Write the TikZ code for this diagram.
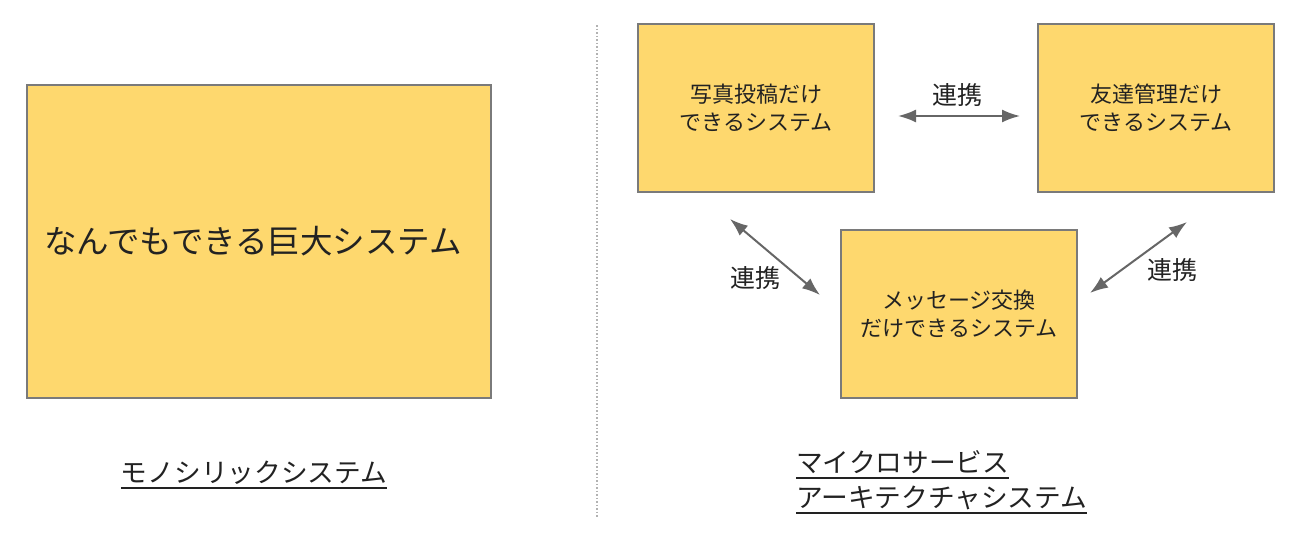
\documentclass[tikz,border=0pt]{standalone}
\usepackage{fontspec}
\setmainfont{Noto Sans CJK JP}
\usetikzlibrary{positioning}
\usetikzlibrary{arrows.meta}
\definecolor{boxfill}{HTML}{FED86E}
\definecolor{boxline}{HTML}{7A7A7A}
\definecolor{linkgray}{HTML}{666666}
\definecolor{txt}{HTML}{222222}
\newcommand{\ulabel}[1]{\setbox0\hbox{#1}\rlap{\copy0}\rule[-7pt]{\wd0}{2pt}}

\begin{document}
\begin{tikzpicture}[x=1pt,y=-1pt,
  sysbox/.style={draw=boxline,line width=1.2pt,fill=boxfill,inner sep=0pt,text=txt,align=center},
  small/.style={font=\fontsize{22}{28}\selectfont},
  link/.style={draw=linkgray,line width=2pt,{Latex[length=18pt,width=13pt]}-{Latex[length=18pt,width=13pt]}},
  linklabel/.style={text=txt,font=\fontsize{25}{25}\selectfont,inner sep=0pt},
  caption/.style={text=txt,font=\fontsize{26.7}{35}\selectfont,inner sep=0pt,align=left}]
 \useasboundingbox (0,0) rectangle (1299,538);
 \draw[gray!60,line width=1.5pt,dotted](597,25)--(597,518);
 % monolith
 \node[sysbox,text width=430pt,inner xsep=17pt,align=left,minimum height=313pt,font=\fontsize{32.5}{32.5}\selectfont] (mono) at (259,241.5) {なんでもできる巨大システム};
 \node[caption] (monocap) at (254,475) {\ulabel{モノシリックシステム}};
 % microservices
 \node[sysbox,small,minimum width=236pt,minimum height=168pt] (photo) at (756,108) {写真投稿だけ\\できるシステム};
 \node[sysbox,small,minimum width=236pt,minimum height=168pt] (friend) at (1156,108) {友達管理だけ\\できるシステム};
 \node[sysbox,small,minimum width=236pt,minimum height=168pt] (msg) at (959,314) {メッセージ交換\\だけできるシステム};
 \coordinate (a1) at (898,116); \coordinate (a2) at (1020,116);
 \coordinate (b1) at (730,219); \coordinate (b2) at (820,295);
 \coordinate (c1) at (1187,222); \coordinate (c2) at (1090,293);
 \draw[link](a1)--(a2);
 \draw[link](b1)--(b2);
 \draw[link](c1)--(c2);
 \node[linklabel] (la) at (957,95) {連携};
 \node[linklabel] (lb) at (755,278) {連携};
 \node[linklabel] (lc) at (1172,270) {連携};
 \node[caption,anchor=north west] (microcap) at (796,450) {\ulabel{マイクロサービス}\\\ulabel{アーキテクチャシステム}};
\end{tikzpicture}
\end{document}
